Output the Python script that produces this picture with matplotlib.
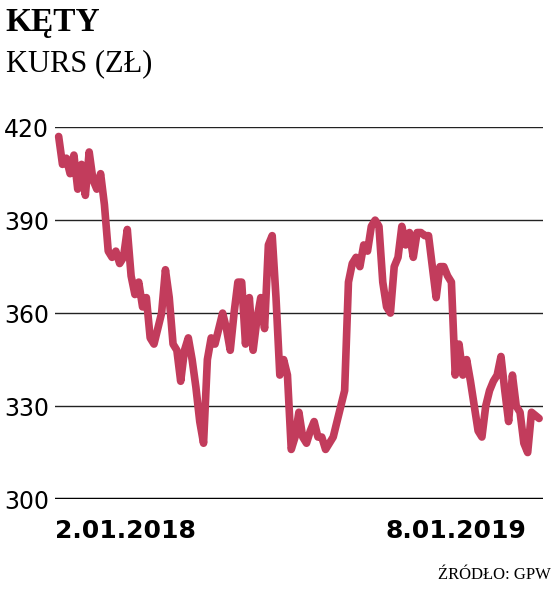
import matplotlib
matplotlib.use("Agg")
import matplotlib.pyplot as plt
import numpy as np

prices = [417,408,410,405,411,400,408,398,412,403,400,405,395,380,378,380,376,378,387,372,
          366,370,362,365,352,350,355,360,374,365,350,348,338,348,352,345,336,325,318,345,
          352,350,355,360,355,348,360,370,370,350,365,348,358,365,355,382,385,365,340,345,
          340,316,320,328,320,318,322,325,320,320,316,318,320,325,330,335,370,376,378,375,
          382,380,388,390,388,370,362,360,375,378,388,382,386,378,386,386,385,385,375,365,
          375,375,372,370,340,350,340,345,338,330,322,320,330,335,338,340,346,335,325,340,
          330,328,318,315,328,327,326]
yticks = [300, 330, 360, 390, 420]
xlabels = ["2.01.2018", "8.01.2019"]

fig = plt.figure(figsize=(5.54, 5.93), dpi=100)
ax = fig.add_axes([0.099, 0.1585, 0.881, 0.627])
x = np.arange(len(prices))
ax.plot(x, prices, color="#c23c5c", lw=5.5, solid_joinstyle="round", solid_capstyle="round", clip_on=False)
ax.set_ylim(300, 420)
ax.set_xlim(-1, len(prices))
for v in yticks[1:]:
    ax.axhline(v, color="#222222", lw=1, zorder=0)
ax.axhline(300, color="black", lw=2.5, zorder=0)
for s in ax.spines.values():
    s.set_visible(False)
ax.set_yticks(yticks)
ax.set_yticklabels([str(v) for v in yticks], fontsize=17)
ax.tick_params(axis="y", length=0, pad=4)
ax.set_xticks([])
fig.text(0.10, 0.105, xlabels[0], fontsize=18, fontweight="bold", ha="left", va="center")
fig.text(0.95, 0.105, xlabels[1], fontsize=18, fontweight="bold", ha="right", va="center")
fig.text(0.01, 0.962, "KĘTY", fontsize=24, fontweight="bold", family="Liberation Serif", va="center")
fig.text(0.01, 0.893, "KURS (ZŁ)", fontsize=22, family="Liberation Serif", va="center")
fig.text(0.995, 0.03, "ŹRÓDŁO: GPW", fontsize=12, family="Liberation Serif", ha="right", va="center")
fig.savefig("out.png", dpi=100, facecolor="white")
